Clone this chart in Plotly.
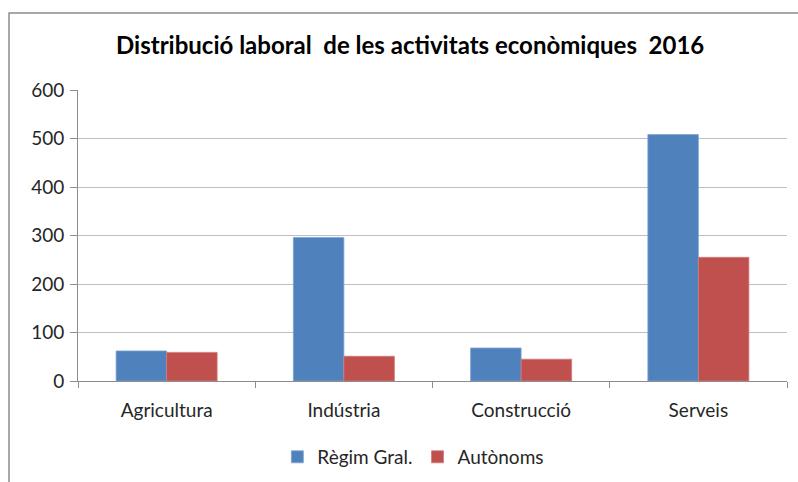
import plotly.graph_objects as go

# Excel-style palette
_BLUE = "#4F81BD"
_RED = "#C0504D"
_GRID = "#BFBFBF"

categories = ["Agricultura", "Indústria", "Construcció", "Serveis"]
regim_gral = [62, 296, 68, 508]
autonoms = [59, 51, 45, 255]
y_ticks = [0, 100, 200, 300, 400, 500, 600]

fig = go.Figure()
fig.add_trace(go.Bar(x=categories, y=regim_gral, name="Règim Gral.",
                     marker=dict(color=_BLUE, line=dict(color="#7FA3D0", width=0.8))))
fig.add_trace(go.Bar(x=categories, y=autonoms, name="Autònoms",
                     marker=dict(color=_RED, line=dict(color="#D07A78", width=0.8))))

fig.update_layout(
    width=798, height=482,
    paper_bgcolor="white", plot_bgcolor="white",
    font=dict(family="Lato, Noto Sans, sans-serif", color="#262626", size=19),
    title=dict(text="<b>Distribució laboral  de les activitats econòmiques  2016</b>",
               x=0.514, xanchor="center", y=1 - 46 / 482, yanchor="middle",
               font=dict(size=24, color="#000000")),
    margin=dict(l=78, r=11, t=90, b=101, autoexpand=False),
    barmode="group", bargap=0.43, bargroupgap=0,
    showlegend=True,
    legend=dict(orientation="h", x=0.473, xanchor="center", y=-0.261, yanchor="middle",
                font=dict(size=19), itemwidth=30, tracegroupgap=0),
    shapes=[dict(type="rect", xref="paper", yref="paper",
                 x0=-0.0973, x1=1.2, y0=-0.5, y1=1.2646,
                 line=dict(color="#8C8C8C", width=1.5), fillcolor="rgba(0,0,0,0)",
                 layer="below")],
)
fig.update_xaxes(showline=True, linecolor="#8C8C8C", linewidth=1,
                 ticks="outside", ticklen=6, tickcolor="#8C8C8C",
                 tickson="boundaries", showgrid=False, automargin=False,
                 ticklabelstandoff=12)
fig.update_yaxes(range=[0, 600], tickvals=y_ticks, showline=True, linecolor="#8C8C8C",
                 linewidth=1, ticks="outside", ticklen=7, tickcolor="#8C8C8C",
                 showgrid=True, gridcolor=_GRID, gridwidth=1.2, zeroline=False,
                 ticklabelstandoff=2, automargin=False)

# drop the default page margin so the figure sits at the window's corner
fig.write_html("out.html", config={"displayModeBar": False},
               post_script="document.body.style.margin='0';")
